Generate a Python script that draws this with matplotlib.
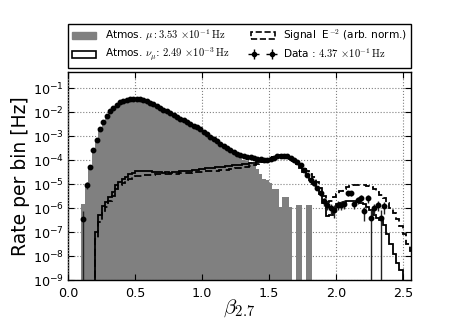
import numpy as np
import matplotlib
matplotlib.use('Agg')
import matplotlib.pyplot as plt
from matplotlib.patches import Patch

# ---------------- data (log10 of rate per bin [Hz]) ----------------
BIN = 0.025

# Atmospheric muons (grey histogram), first bin starts at 0.100
mu_start = 0.100
mu_log = [
    -5.85, -5.00, -4.31, -3.62, -3.18, -2.74, -2.44, -2.19, -1.98, -1.83,
    -1.71, -1.61, -1.54, -1.50, -1.49, -1.47, -1.47, -1.49, -1.52, -1.57,
    -1.63, -1.70, -1.77, -1.84, -1.92, -1.99, -2.07, -2.14, -2.21, -2.29,
    -2.36, -2.44, -2.51, -2.58, -2.66, -2.74, -2.84, -2.94, -3.04, -3.14,
    -3.23, -3.33, -3.43, -3.54, -3.66, -3.75, -3.83, -3.91, -3.98, -4.04,
    -4.10, -4.18, -4.36, -4.56, -4.77, -4.85, -4.95, -5.20, -5.20, -5.94,
    -5.56, -5.56, -5.94, None, -5.87, -5.87, None, -5.87, -5.87]

# Atmospheric muon neutrinos (solid line), first bin starts at 0.200
numu_start = 0.200
numu_log = [
    -7.00, -6.30, -5.90, -5.75, -5.55, -5.35, -5.05, -4.90, -4.80, -4.70,
    -4.60, -4.52, -4.47, -4.45, -4.44, -4.45, -4.46, -4.48, -4.50, -4.48,
    -4.55, -4.50, -4.52, -4.48, -4.50, -4.46, -4.47, -4.44, -4.45, -4.42,
    -4.40, -4.38, -4.36, -4.34, -4.33, -4.31, -4.30, -4.28, -4.27, -4.25,
    -4.24, -4.22, -4.21, -4.19, -4.17, -4.15, -4.13, -4.12, -4.10, -4.08,
    -4.05, -4.00, -3.95, -3.88, -3.84, -3.82, -3.83, -3.87, -3.95, -4.05,
    -4.18, -4.32, -4.48, -4.65, -4.82, -5.00, -5.15, -5.40, -5.80, -6.35,
    -6.30, -6.05, -5.85, -5.80, -5.75, -5.72, -5.70, -5.72, -5.75, -5.80,
    -5.85, -5.95, -6.10, -6.30, -6.40, -6.50, -6.70, -7.10, -7.50, -7.90,
    -8.30, -8.60, -9.10]

# Signal E^-2 (dashed line), first bin starts at 0.200
sig_start = 0.200
sig_log = [
    -7.30, -6.60, -6.20, -5.95, -5.70, -5.50, -5.20, -5.05, -4.95, -4.85,
    -4.78, -4.72, -4.68, -4.65, -4.63, -4.62, -4.62, -4.61, -4.60, -4.60,
    -4.60, -4.59, -4.58, -4.57, -4.56, -4.55, -4.54, -4.53, -4.52, -4.51,
    -4.50, -4.49, -4.48, -4.47, -4.46, -4.45, -4.44, -4.43, -4.41, -4.40,
    -4.38, -4.36, -4.34, -4.32, -4.30, -4.27, -4.24, -4.20, -4.16, -4.11,
    -4.06, -4.00, -3.94, -3.88, -3.83, -3.80, -3.80, -3.83, -3.90, -3.98,
    -4.07, -4.18, -4.32, -4.45, -4.58, -4.72, -4.90, -5.15, -5.50, -5.75,
    -5.70, -5.55, -5.42, -5.30, -5.20, -5.12, -5.07, -5.04, -5.02, -5.02,
    -5.04, -5.08, -5.14, -5.22, -5.32, -5.45, -5.60, -5.78, -5.98, -6.20,
    -6.45, -6.75, -7.10, -7.50, -7.80]

# Data points, first bin starts at 0.100
data_start = 0.100
data_log = [
    -6.45, -5.04, -4.29, -3.60, -3.16, -2.72, -2.42, -2.17, -1.96, -1.81,
    -1.69, -1.59, -1.52, -1.48, -1.47, -1.45, -1.45, -1.47, -1.50, -1.55,
    -1.61, -1.68, -1.75, -1.82, -1.90, -1.97, -2.05, -2.12, -2.19, -2.27,
    -2.34, -2.42, -2.49, -2.56, -2.64, -2.72, -2.82, -2.92, -3.02, -3.12,
    -3.21, -3.31, -3.41, -3.50, -3.59, -3.67, -3.74, -3.79, -3.83, -3.86,
    -3.89, -3.92, -3.95, -3.97, -3.98, -3.98, -3.95, -3.90, -3.85, -3.82,
    -3.81, -3.84, -3.90, -3.98, -4.08, -4.21, -4.41, -4.62, -4.83, -4.97,
    -5.17, -5.38, -5.72, -5.86, -6.00, -6.07, -5.86, -5.86, -5.83, -5.38,
    -5.38, -5.83, -5.65, -5.59, -6.14, -5.59, -6.41, -6.00, -5.86, -6.41,
    -5.93]
# relative error of each data point
data_relerr = [
    1.20, 0.30, 0.10, 0.00, 0.00, 0.00, 0.00, 0.00, 0.00, 0.00,
    0.00, 0.00, 0.00, 0.00, 0.00, 0.00, 0.00, 0.00, 0.00, 0.00,
    0.00, 0.00, 0.00, 0.00, 0.00, 0.00, 0.00, 0.00, 0.00, 0.00,
    0.00, 0.00, 0.00, 0.00, 0.00, 0.00, 0.00, 0.00, 0.00, 0.00,
    0.00, 0.00, 0.00, 0.00, 0.00, 0.00, 0.00, 0.00, 0.00, 0.00,
    0.00, 0.00, 0.00, 0.00, 0.00, 0.00, 0.00, 0.00, 0.00, 0.00,
    0.00, 0.00, 0.05, 0.05, 0.10, 0.10, 0.12, 0.15, 0.15, 0.20,
    0.20, 0.25, 0.35, 0.40, 0.50, 0.55, 0.40, 0.40, 0.40, 0.25,
    0.25, 0.40, 0.35, 0.35, 0.60, 0.35, 1.20, 0.50, 0.45, 1.20,
    0.50]

mu_label = r'Atmos. $\mu: 3.53\,\times\!10^{-1}\,\mathrm{Hz}$'
numu_label = r'Atmos. $\nu_\mu$: $2.49\,\times\!10^{-3}\,\mathrm{Hz}$'
sig_label = r'Signal  E$^{-2}$ (arb. norm.)'
data_label = r'Data : $4.37\,\times\!10^{-1}\,\mathrm{Hz}$'

# ---------------- derived arrays ----------------
def to_rate(vals):
    return np.array([0.0 if v is None else 10.0 ** v for v in vals])

def edges_for(start, n):
    return start + BIN * np.arange(n + 1)

mu_rate = to_rate(mu_log)
mu_edges = edges_for(mu_start, len(mu_rate))
numu_rate = to_rate(numu_log)
numu_edges = edges_for(numu_start, len(numu_rate))
sig_rate = to_rate(sig_log)
sig_edges = edges_for(sig_start, len(sig_rate))
data_rate = to_rate(data_log)
data_edges = edges_for(data_start, len(data_rate))
data_x = 0.5 * (data_edges[:-1] + data_edges[1:])
rel = np.array(data_relerr)
err_lo = data_rate * np.minimum(rel, 1.0)
err_hi = data_rate * rel

# ---------------- plot ----------------
fig = plt.figure(figsize=(4.57, 3.2), dpi=100)
ax = fig.add_axes([0.149, 0.125, 0.750, 0.650])
ax.set_yscale('log')

ax.bar(mu_edges[:-1], mu_rate, width=BIN, align='edge', color='#808080',
       linewidth=0, zorder=1)
ax.stairs(numu_rate, numu_edges, baseline=1e-14, color='k', lw=1.3, zorder=3)
ax.stairs(sig_rate, sig_edges, baseline=1e-14, color='k', lw=1.3,
          ls=(0, (4, 2)), zorder=3)
ax.errorbar(data_x, data_rate, yerr=[err_lo, err_hi], fmt='o', color='k',
            ms=3.2, ecolor='#222222', elinewidth=1.0, capsize=0, zorder=5)

ax.set_xlim(0, 2.56)
ax.set_ylim(1e-9, 0.47)
ax.set_xticks([0.0, 0.5, 1.0, 1.5, 2.0, 2.5])
ax.set_yticks([10.0 ** k for k in range(-9, 0)])
ax.minorticks_off()
ax.tick_params(direction='in', top=True, right=True, labelsize=9.2,
               length=4)
ax.tick_params(axis='x', pad=5)
ax.tick_params(axis='y', pad=3)
ax.grid(True, ls=':', color='0.5', lw=0.8)
ax.set_axisbelow(False)
for s in ax.spines.values():
    s.set_linewidth(1.0)

ax.set_ylabel('Rate per bin [Hz]', fontsize=13.5, labelpad=2)
ax.set_xlabel(r'$\beta_{2.7}$', fontsize=15, math_fontfamily='cm', labelpad=-2)

# legend
h_mu = Patch(facecolor='#808080', edgecolor='#808080')
h_numu = Patch(facecolor='white', edgecolor='k', lw=1.2)
h_sig = Patch(facecolor='white', edgecolor='k', lw=1.2, ls='--')
h_data = ax.errorbar([np.nan], [np.nan], xerr=[1], yerr=[1], fmt='o',
                     color='k', ms=3, elinewidth=1.0, capsize=0)
leg = ax.legend([h_mu, h_numu, h_sig, h_data],
                [mu_label, numu_label, sig_label, data_label],
                ncol=2, loc='lower left', bbox_to_anchor=(0, 1.02, 1, 0.205),
                mode='expand', borderaxespad=0, fontsize=7.6, numpoints=2,
                fancybox=False, edgecolor='k', framealpha=1,
                handlelength=2.3, handletextpad=0.8, columnspacing=0.5,
                borderpad=0.35, labelspacing=0.3)
leg.get_frame().set_linewidth(1.0)
for t in leg.get_texts():
    t.set_math_fontfamily('cm')

fig.savefig('out.png', dpi=100)
